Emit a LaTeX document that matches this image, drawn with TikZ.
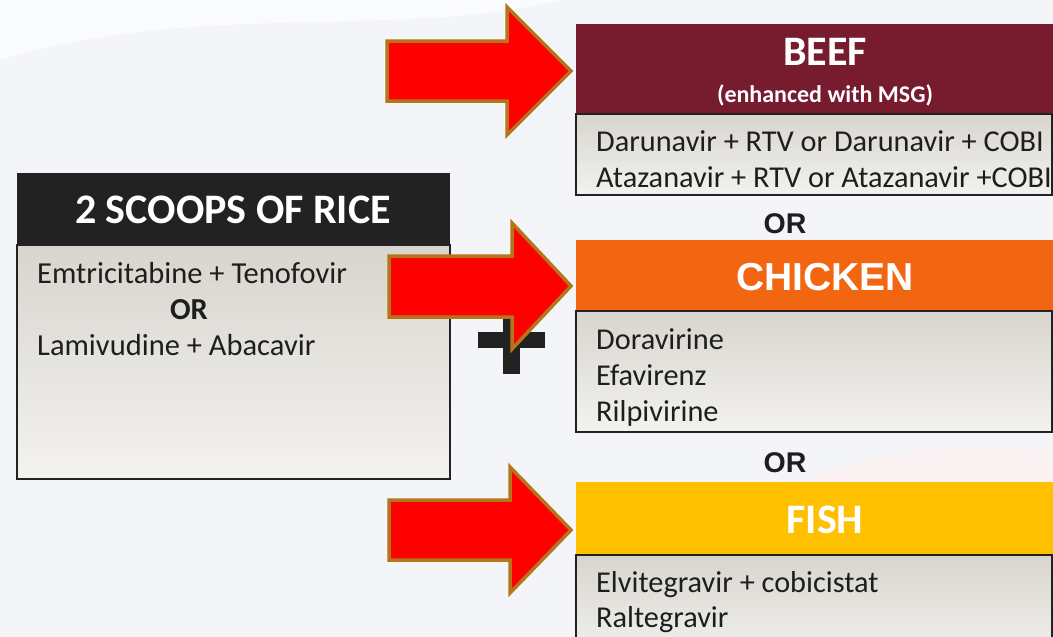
\documentclass[tikz,border=0pt]{standalone}
\usepackage{fontspec}
\setmainfont{Carlito}
\newfontfamily\arialf{Liberation Sans}
\definecolor{bgc}{HTML}{F4F5F8}
\definecolor{beefc}{HTML}{771B2E}
\definecolor{chickc}{HTML}{F26511}
\definecolor{fishc}{HTML}{FFC000}
\definecolor{arredge}{HTML}{B5761B}
\definecolor{boxtop}{HTML}{D8D5CE}
\definecolor{boxbot}{HTML}{F3F2EF}
\definecolor{hdrc}{HTML}{222222}
\definecolor{txtc}{HTML}{1E1E1E}
\tikzset{
  bodybox/.style={top color=boxtop, bottom color=boxbot, draw=hdrc, line width=1.5pt},
  redarrow/.style={fill=red, draw=arredge, line width=3.5pt, line join=miter},
  bodytext/.style={anchor=base west, text=txtc, inner sep=0pt, font=\fontsize{30.3}{36}\selectfont},
  hdrtext/.style={text=white, inner sep=0pt, font=\bfseries\fontsize{42}{48}\selectfont},
  ortext/.style={text=txtc, inner sep=0pt, font=\arialf\bfseries\fontsize{28.5}{34}\selectfont}
}
\begin{document}
\begin{tikzpicture}[x=1pt,y=-1pt]
\fill[bgc] (0,0) rectangle (1053,637);
\useasboundingbox (0,0) rectangle (1053,637);
% faint background swooshes
\fill[white,opacity=0.6] (0,60) .. controls (200,0) and (400,40) .. (560,0) -- (0,0) -- cycle;
\fill[red!6,opacity=0.6] (620,637) .. controls (700,480) and (900,430) .. (1053,450) -- (1053,637) -- cycle;
\fill[bgc,opacity=0.7] (680,637) .. controls (760,520) and (920,480) .. (1053,490) -- (1053,637) -- cycle;

% left box
\fill[hdrc] (17,173) rectangle (450,245);
\node[hdrtext] (rice) at (233,210) {2 SCOOPS OF RICE};
\draw[bodybox] (17,245) rectangle (450,479);
\node[bodytext, font=\fontsize{30.5}{36}\selectfont] (emtri) at (37,283) {Emtricitabine + Tenofovir};
\node[text=txtc, inner sep=0pt, anchor=base, font=\bfseries\fontsize{30.5}{36}\selectfont] (or0) at (189,319) {OR};
\node[bodytext, font=\fontsize{30.5}{36}\selectfont] (lami) at (37,355) {Lamivudine + Abacavir};

% plus sign
\fill[hdrc] (478,332) rectangle (545,348);
\fill[hdrc] (503,306) rectangle (520,374);

% beef
\fill[beefc] (576,24) rectangle (1053,114);
\node[hdrtext] (beef) at (825,52) {BEEF};
\node[text=white, inner sep=0pt, font=\bfseries\fontsize{24}{28}\selectfont] (msg) at (825,95) {(enhanced with MSG)};
\draw[bodybox] (576,114) rectangle (1052,195);
\node[bodytext] (daru) at (596,151) {Darunavir + RTV or Darunavir + COBI};
\node[bodytext] (ataz) at (596,187) {Atazanavir + RTV or Atazanavir +COBI};

\node[ortext] (or1) at (785,224) {OR};

% chicken
\fill[chickc] (576,240) rectangle (1053,311);
\node[text=white, inner sep=0pt, font=\arialf\bfseries\fontsize{39}{46}\selectfont] (chicken) at (825,277) {CHICKEN};
\draw[bodybox] (576,311) rectangle (1052,432);
\node[bodytext] (dora) at (596,349) {Doravirine};
\node[bodytext] (efav) at (596,385) {Efavirenz};
\node[bodytext] (rilp) at (596,421) {Rilpivirine};

\node[ortext] (or2) at (785,463) {OR};

% fish
\fill[fishc] (576,482) rectangle (1053,555);
\node[hdrtext] (fish) at (825,520) {FISH};
\draw[bodybox] (576,555) rectangle (1052,660);
\node[bodytext] (elvi) at (596,592) {Elvitegravir + cobicistat};
\node[bodytext] (ralt) at (596,627) {Raltegravir};

% red block arrows
\draw[redarrow] (387,41) -- (507,41) -- (507,7) -- (571,71) -- (507,135) -- (507,101) -- (387,101) -- cycle;
\draw[redarrow] (389,256) -- (512,256) -- (512,223) -- (571,286) -- (512,349) -- (512,317) -- (389,317) -- cycle;
\draw[redarrow] (389,500) -- (510,500) -- (510,467) -- (571,530) -- (510,593) -- (510,560) -- (389,560) -- cycle;
\end{tikzpicture}
\end{document}
